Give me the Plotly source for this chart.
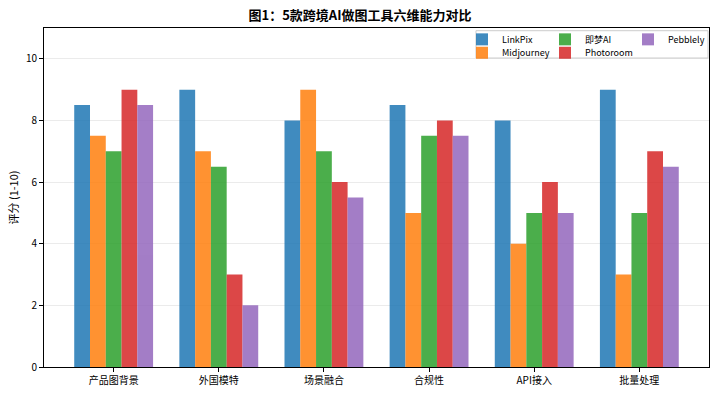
import plotly.graph_objects as go

categories = ["产品图背景", "外国模特", "场景融合", "合规性", "API接入", "批量处理"]
tools = ["LinkPix", "Midjourney", "即梦AI", "Photoroom", "Pebblely"]
linkpix = [8.5, 9, 8, 8.5, 8, 9]
midjourney = [7.5, 7, 9, 5, 4, 3]
jimeng = [7, 6.5, 7, 7.5, 5, 5]
photoroom = [9, 3, 6, 8, 6, 7]
pebblely = [8.5, 2, 5.5, 7.5, 5, 6.5]
series = [linkpix, midjourney, jimeng, photoroom, pebblely]
colors = ["#1f77b4", "#ff7f0e", "#2ca02c", "#d62728", "#9467bd"]

# legend grid (column-major like matplotlib ncol=3)
leg_x = [0.6286, 0.6286, 0.7534, 0.7534, 0.8782]
leg_y = [0.9665, 0.927, 0.9665, 0.927, 0.9665]

FONT = "Noto Sans CJK SC"
fig = go.Figure()
xs = list(range(len(categories)))
legends = {}
for i, (name, vals, c) in enumerate(zip(tools, series, colors)):
    lid = "legend" if i == 0 else f"legend{i+1}"
    fig.add_trace(go.Bar(x=xs, y=vals, name=name, marker=dict(color=c, line=dict(width=0)),
                         opacity=0.85, legend=lid, showlegend=True))
    legends[lid] = dict(orientation="v", x=leg_x[i], xanchor="left", y=leg_y[i], yanchor="middle",
                        bgcolor="rgba(0,0,0,0)", borderwidth=0, font=dict(size=9),
                        tracegroupgap=0, itemwidth=30)

fig.update_layout(
    width=720, height=396,
    margin=dict(l=44, r=11, t=28, b=29, autoexpand=False),
    showlegend=True,
    paper_bgcolor="white", plot_bgcolor="white",
    font=dict(family=FONT, size=10, color="black"),
    barmode="group", bargap=0.25, bargroupgap=0,
    title=dict(text="<b>图1：5款跨境AI做图工具六维能力对比</b>", x=0.5, xanchor="center",
               y=0.96, yanchor="middle", font=dict(size=13, family=FONT)),
    shapes=[dict(type="rect", xref="paper", yref="paper", x0=0.6496, x1=0.9985,
                 y0=0.9115, y1=0.992, line=dict(color="#cccccc", width=1),
                 fillcolor="rgba(255,255,255,0.8)", layer="above")],
    xaxis=dict(range=[-0.6625, 5.6625], tickmode="array", tickvals=xs, ticktext=categories,
               showgrid=False, ticks="outside", ticklen=4, tickcolor="black",
               showline=True, linecolor="black", linewidth=1, mirror=True, zeroline=False),
    yaxis=dict(range=[0, 11], tickvals=[0, 2, 4, 6, 8, 10], showgrid=True,
               gridcolor="rgba(0,0,0,0.08)", ticks="outside", ticklen=4, tickcolor="black",
               showline=True, linecolor="black", linewidth=1, mirror=True, zeroline=False,
               title=dict(text="评分 (1-10)", standoff=5, font=dict(size=11))),
    **legends,
)
fig.write_html("out.html")
